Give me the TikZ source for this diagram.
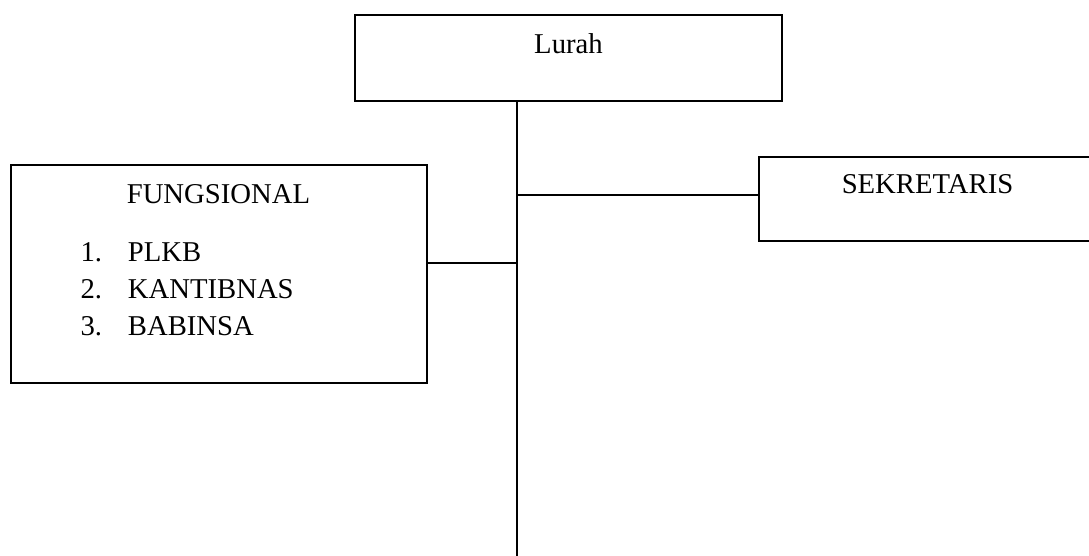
\documentclass[tikz,border=0pt]{standalone}
\usepackage{fontspec}
\setmainfont{Liberation Serif}
\begin{document}
\begin{tikzpicture}[x=1pt,y=-1pt,
  box/.style={draw=black,line width=2pt,rectangle,inner sep=0pt,outer sep=0pt},
  lbl/.style={inner sep=0pt,anchor=base,font=\fontsize{28.7}{37}\selectfont},
  lblw/.style={lbl,anchor=base west},
  conn/.style={draw=black,line width=2pt}]
\clip (0,0) rectangle (1089,556);
\fill[white] (0,0) rectangle (1089,556);
% boxes
\node[box,minimum width=427pt,minimum height=86pt] (lurah) at (568.5,58) {};
\node[box,minimum width=416pt,minimum height=218pt] (fung) at (219,274) {};
\node[box,minimum width=337pt,minimum height=84pt] (sek) at (927.5,199) {};
% texts
\node[lbl] (tlurah) at (568.5,53.3) {Lurah};
\node[lbl] (tfung) at (218.5,203.5) {FUNGSIONAL};
\node[lblw] (n1) at (80.3,261.3) {1.};
\node[lblw] (i1) at (127.7,261.3) {PLKB};
\node[lblw] (n2) at (80.3,298.8) {2.};
\node[lblw] (i2) at (127.7,298.8) {KANTIBNAS};
\node[lblw] (n3) at (80.3,335.6) {3.};
\node[lblw] (i3) at (127.7,335.6) {BABINSA};
\node[lbl] (tsek) at (927.5,193.9) {SEKRETARIS};
% connectors
\coordinate (ttop) at (517,101);
\coordinate (tbot) at (517,556);
\coordinate (j1) at (517,195);
\coordinate (j2) at (517,263);
\draw[conn] (ttop) -- (tbot);
\draw[conn] (j1) -- (j1 -| sek.west);
\draw[conn] (j2) -- (j2 -| fung.east);
\end{tikzpicture}
\end{document}
